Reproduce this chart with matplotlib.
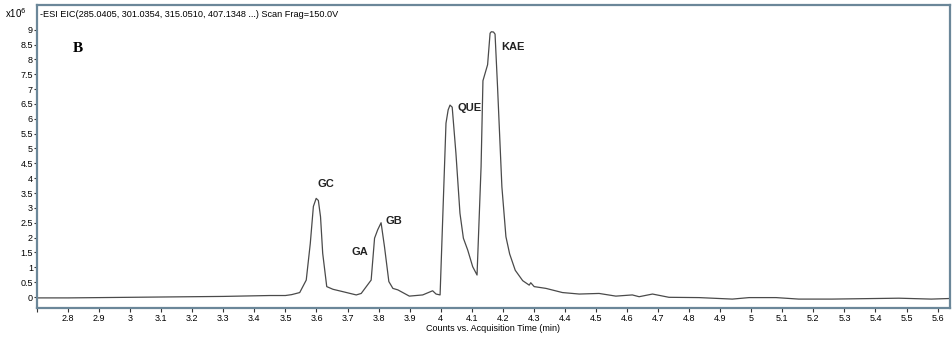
import numpy as np
import matplotlib
matplotlib.use("Agg")
import matplotlib.pyplot as plt

# retention time (min) and counts (x10^6)
time = [2.70, 2.80, 2.90, 3.00, 3.10, 3.20, 3.30, 3.40, 3.45, 3.50, 3.52,
        3.546, 3.567, 3.580, 3.590, 3.599, 3.606, 3.613, 3.620, 3.633, 3.653,
        3.685, 3.728, 3.744, 3.776, 3.787, 3.797, 3.808, 3.819, 3.833, 3.846,
        3.862, 3.899, 3.942, 3.974, 3.985, 3.998, 4.017, 4.024, 4.030, 4.037,
        4.049, 4.062, 4.073, 4.087, 4.103, 4.117, 4.130, 4.136, 4.151, 4.159,
        4.163, 4.170, 4.175, 4.183, 4.197, 4.210, 4.222, 4.240, 4.264, 4.285,
        4.290, 4.301, 4.339, 4.392, 4.446, 4.510, 4.564, 4.617, 4.639, 4.682,
        4.735, 4.832, 4.939, 4.993, 5.080, 5.153, 5.260, 5.475, 5.580, 5.640]
counts = [-0.03, -0.03, -0.02, -0.01, 0.00, 0.01, 0.02, 0.04, 0.05, 0.05, 0.08,
          0.15, 0.57, 1.80, 3.05, 3.32, 3.25, 2.70, 1.47, 0.35, 0.26,
          0.18, 0.07, 0.12, 0.57, 1.98, 2.26, 2.50, 1.69, 0.52, 0.29,
          0.24, 0.03, 0.07, 0.21, 0.10, 0.07, 5.85, 6.30, 6.46, 6.39,
          4.84, 2.82, 1.98, 1.58, 1.02, 0.74, 4.39, 7.28, 7.82, 8.88,
          8.93, 8.92, 8.85, 7.08, 3.71, 2.03, 1.45, 0.90, 0.55, 0.40,
          0.48, 0.35, 0.29, 0.15, 0.10, 0.12, 0.03, 0.07, 0.01, 0.10,
          -0.01, -0.02, -0.07, -0.02, -0.02, -0.07, -0.07, -0.04, -0.07, -0.05]

peak_names = ["GC", "GA", "GB", "QUE", "KAE"]
peak_x = [3.631, 3.739, 3.850, 4.092, 4.234]
peak_y = [3.80, 1.50, 2.57, 6.35, 8.41]

xticks = np.round(np.arange(2.7, 5.65, 0.1), 1)
yticks = np.arange(0, 9.01, 0.5)

plt.rcParams['font.family'] = ['Liberation Sans', 'DejaVu Sans']

fig = plt.figure(figsize=(9.53, 3.38), dpi=100)
ax = fig.add_axes([37/953, 30/338, 913/953, 303/338])

ax.plot(time, counts, color='#4a4a4a', lw=0.9)

ax.set_xlim(2.7, 5.64)
ax.set_ylim(-0.37, 9.83)
ax.set_xticks(xticks)
ax.set_xticklabels(['' if t == 2.7 else '%g' % t for t in xticks], fontsize=6.5)
ax.set_yticks(yticks)
ax.set_yticklabels(['%g' % v for v in yticks], fontsize=6.5)
ax.tick_params(axis='x', length=3, width=0.8, pad=1, color='#333333')
ax.tick_params(axis='y', length=2, width=0.8, pad=1, color='#333333')
ax.set_xlabel('Counts vs. Acquisition Time (min)', fontsize=6.5, labelpad=1)

for s in ax.spines.values():
    s.set_color('#6b8799')
    s.set_linewidth(1.6)

for name, x, y in zip(peak_names, peak_x, peak_y):
    ax.text(x, y, name, fontsize=8, fontweight='bold', color='#222222',
            ha='center', va='center')

ax.text(2.832, 8.38, 'B', fontsize=11, fontweight='bold',
        family='Liberation Serif', ha='center', va='center')

ax.text(0.003, 0.985, '-ESI EIC(285.0405, 301.0354, 315.0510, 407.1348 ...) Scan Frag=150.0V',
        transform=ax.transAxes, fontsize=6.6, ha='left', va='top')
fig.text(5/953, 1 - 13/338, r'x10$^{6}$', fontsize=7, ha='left', va='center')

fig.savefig('out.png', dpi=100)
